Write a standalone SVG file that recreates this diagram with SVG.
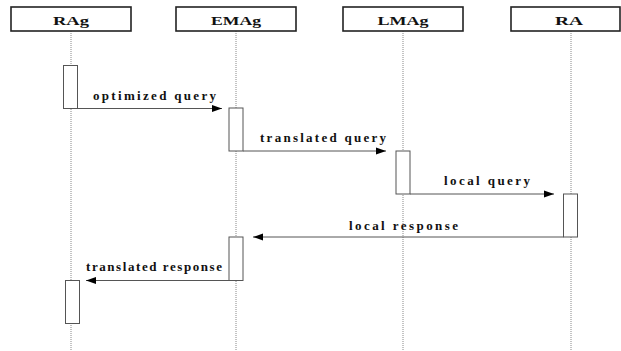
<svg xmlns="http://www.w3.org/2000/svg" width="621" height="351" viewBox="0 0 621 351">
<style>
.hdr{fill:#fff;stroke:#222;stroke-width:1.6}
.hdrt{font-family:"Liberation Serif",serif;font-weight:bold;font-size:13px;fill:#111;text-anchor:middle}
.life{stroke:#888;stroke-width:1;stroke-dasharray:1,1;fill:none}
.act{fill:#fff;stroke:#555;stroke-width:1}
.msg{stroke:#555;stroke-width:1;fill:none}
.lbl{font-family:"Liberation Serif",serif;font-weight:bold;font-size:13px;fill:#111}
</style>
<defs>
<marker id="ah" markerWidth="10" markerHeight="8" refX="10" refY="4" orient="auto" markerUnits="userSpaceOnUse">
<path d="M0,0.5 L10,4 L0,7.5 Z" fill="#000"/>
</marker>
</defs>
<rect width="621" height="351" fill="#fff"/>
<g id="RAg">
<line class="life" x1="71" y1="31" x2="71" y2="351"/>
<rect class="hdr" x="11" y="7" width="120" height="24"/>
<text class="hdrt" x="71" y="25" textLength="36" lengthAdjust="spacingAndGlyphs">RAg</text>
<rect class="act" x="63.5" y="65.5" width="14" height="43"/>
<rect class="act" x="65.5" y="280.5" width="14" height="43"/>
</g>
<g id="EMAg">
<line class="life" x1="236" y1="31" x2="236" y2="351"/>
<rect class="hdr" x="176" y="7" width="120" height="24"/>
<text class="hdrt" x="236" y="25" textLength="50" lengthAdjust="spacingAndGlyphs">EMAg</text>
<rect class="act" x="229" y="108" width="14" height="43"/>
<rect class="act" x="229" y="237" width="14" height="43.5"/>
</g>
<g id="LMAg">
<line class="life" x1="403" y1="31" x2="403" y2="351"/>
<rect class="hdr" x="343" y="7" width="120" height="24"/>
<text class="hdrt" x="403" y="25" textLength="51" lengthAdjust="spacingAndGlyphs">LMAg</text>
<rect class="act" x="396" y="151" width="14" height="43"/>
</g>
<g id="RA">
<line class="life" x1="571" y1="31" x2="571" y2="351"/>
<rect class="hdr" x="511" y="7" width="109" height="24"/>
<text class="hdrt" x="569" y="25" textLength="28" lengthAdjust="spacingAndGlyphs">RA</text>
<rect class="act" x="563.5" y="194" width="14" height="43"/>
</g>
<g id="connectors">
<line class="msg" x1="77.5" y1="108.5" x2="222" y2="108.5" marker-end="url(#ah)"/>
<text class="lbl" x="93" y="100" textLength="123" lengthAdjust="spacing">optimized query</text>
<line class="msg" x1="243" y1="151" x2="386" y2="151" marker-end="url(#ah)"/>
<text class="lbl" x="260" y="142" textLength="126" lengthAdjust="spacing">translated query</text>
<line class="msg" x1="410" y1="194" x2="554" y2="194" marker-end="url(#ah)"/>
<text class="lbl" x="444" y="185" textLength="86" lengthAdjust="spacing">local query</text>
<line class="msg" x1="563.5" y1="237" x2="253" y2="237" marker-end="url(#ah)"/>
<text class="lbl" x="349" y="230" textLength="109" lengthAdjust="spacing">local response</text>
<line class="msg" x1="229" y1="280.5" x2="86" y2="280.5" marker-end="url(#ah)"/>
<text class="lbl" x="86" y="271" textLength="136" lengthAdjust="spacing">translated response</text>
</g>
</svg>
